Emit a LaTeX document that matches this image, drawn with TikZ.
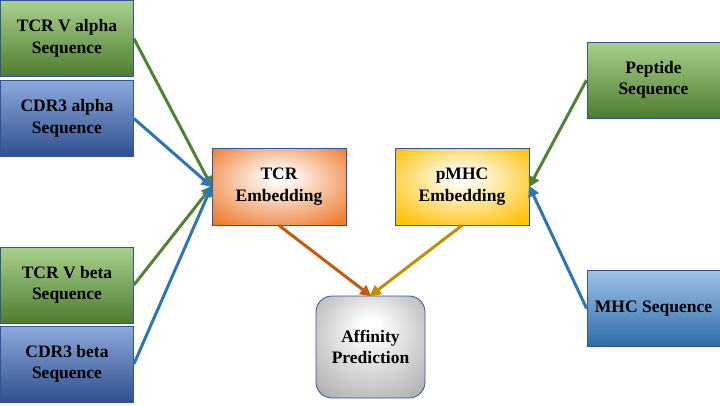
\documentclass[tikz,border=0pt]{standalone}
\usepackage{fontspec}
\setmainfont{Liberation Serif}
\usetikzlibrary{arrows.meta}
\definecolor{gtop}{HTML}{A9D18E}
\definecolor{gmid}{HTML}{70AD47}
\definecolor{gbot}{HTML}{4E7C2F}
\definecolor{btop}{HTML}{8EA9DB}
\definecolor{bmid}{HTML}{4472C4}
\definecolor{bbot}{HTML}{2E4F8F}
\definecolor{ltop}{HTML}{9DC3E6}
\definecolor{lmid}{HTML}{5B9BD5}
\definecolor{lbot}{HTML}{2E6AAA}
\definecolor{bord}{HTML}{2F5597}
\definecolor{agreen}{HTML}{548235}
\definecolor{ablue}{HTML}{2E75B6}
\definecolor{aorange}{HTML}{C55A11}
\definecolor{agold}{HTML}{BF9000}
\definecolor{eorange}{HTML}{ED7D31}
\definecolor{eyellow}{HTML}{FFC000}
\definecolor{egray}{HTML}{A3A3A3}
\pgfdeclareradialshading{orangeglow}{\pgfpoint{0bp}{7bp}}{color(0bp)=(white); color(3bp)=(white); color(34bp)=(eorange); color(50bp)=(eorange)}
\pgfdeclareradialshading{yellowglow}{\pgfpoint{0bp}{7bp}}{color(0bp)=(white); color(3bp)=(white); color(34bp)=(eyellow); color(50bp)=(eyellow)}
\pgfdeclareradialshading{grayglow}{\pgfpoint{0bp}{11bp}}{color(0bp)=(white); color(4bp)=(white); color(40bp)=(egray); color(50bp)=(egray)}
\tikzset{
  box/.style={draw=bord, line width=0.8pt, inner sep=0pt, align=center,
    font=\bfseries\fontsize{17.5}{21.5}\selectfont},
  seqbox/.style={box, minimum width=133pt, minimum height=76pt},
  greenbox/.style={seqbox, top color=gtop, middle color=gmid, bottom color=gbot},
  bluebox/.style={seqbox, top color=btop, middle color=bmid, bottom color=bbot},
  lbluebox/.style={seqbox, top color=ltop, middle color=lmid, bottom color=lbot},
  embbox/.style={box, minimum width=134pt, minimum height=77pt},
  conn/.style={line width=3pt, -{Triangle[length=11pt,width=11pt]}, shorten >=-1pt}
}
\begin{document}
\begin{tikzpicture}[x=1pt,y=-1pt]
\useasboundingbox (0,0) rectangle (720,405);
\node[greenbox] (tva) at (67,38.5) {TCR V alpha\\Sequence};
\node[bluebox] (cdra) at (67,118.5) {CDR3 alpha\\Sequence};
\node[greenbox] (tvb) at (67,285) {TCR V beta\\Sequence};
\node[bluebox] (cdrb) at (67,364) {CDR3 beta\\Sequence};
\node[embbox, shading=orangeglow] (tcr) at (279,186.5) {TCR\\Embedding};
\node[embbox, shading=yellowglow] (pmhc) at (462,186.5) {pMHC\\Embedding};
\node[box, minimum width=109pt, minimum height=102pt, rounded corners=16pt, shading=grayglow] (aff) at (370.5,347) {Affinity\\Prediction};
\node[greenbox] (pep) at (653.5,80) {Peptide\\Sequence};
\node[lbluebox] (mhc) at (653.5,308.5) {MHC Sequence};
\draw[conn, agreen] (tva.east) -- (tcr.west);
\draw[conn, ablue] (cdra.east) -- (tcr.west);
\draw[conn, agreen] (tvb.east) -- (tcr.west);
\draw[conn, ablue] (cdrb.east) -- (tcr.west);
\draw[conn, agreen] (pep.west) -- (pmhc.east);
\draw[conn, ablue] (mhc.west) -- (pmhc.east);
\draw[conn, aorange] (tcr.south) -- (aff.north);
\draw[conn, agold] (pmhc.south) -- (aff.north);
\end{tikzpicture}
\end{document}
